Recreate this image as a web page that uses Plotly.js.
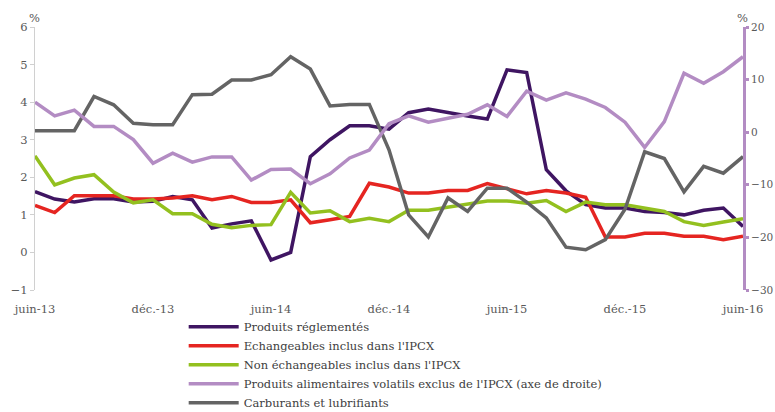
<!DOCTYPE html>
<html>
<head>
<meta charset="utf-8">
<script src="https://cdn.plot.ly/plotly-3.0.1.min.js"></script>
<style>html,body{margin:0;padding:0;background:#fff}#chart{width:775px;height:412px}</style>
</head>
<body>
<div id="chart"></div>
<script>
const months = ["juin-13","juil.-13","août-13","sept.-13","oct.-13","nov.-13","déc.-13",
  "janv.-14","févr.-14","mars-14","avr.-14","mai-14","juin-14","juil.-14","août-14","sept.-14","oct.-14","nov.-14","déc.-14",
  "janv.-15","févr.-15","mars-15","avr.-15","mai-15","juin-15","juil.-15","août-15","sept.-15","oct.-15","nov.-15","déc.-15",
  "janv.-16","févr.-16","mars-16","avr.-16","mai-16","juin-16"];
const tickLabels = ["juin-13","déc.-13","juin-14","déc.-14","juin-15","déc.-15","juin-16"];

const reglementes = [1.62,1.42,1.34,1.43,1.43,1.34,1.36,1.49,1.40,0.65,0.76,0.84,-0.20,0.00,2.55,3.00,3.37,3.37,3.28,3.72,3.82,3.72,3.63,3.55,4.86,4.79,2.20,1.64,1.27,1.18,1.18,1.09,1.06,1.00,1.12,1.18,0.69];
const echangeables = [1.25,1.06,1.51,1.51,1.51,1.42,1.42,1.45,1.51,1.40,1.49,1.33,1.33,1.40,0.79,0.87,0.96,1.84,1.74,1.58,1.58,1.65,1.65,1.83,1.69,1.56,1.65,1.58,1.47,0.41,0.41,0.51,0.51,0.43,0.43,0.34,0.43];
const nonEchangeables = [2.57,1.80,1.98,2.07,1.61,1.32,1.40,1.03,1.03,0.75,0.66,0.72,0.74,1.60,1.05,1.11,0.82,0.91,0.82,1.12,1.12,1.21,1.29,1.37,1.37,1.31,1.38,1.09,1.34,1.27,1.27,1.17,1.09,0.82,0.72,0.81,0.90];
const alimentaires = [5.7,3.1,4.2,1.1,1.1,-1.4,-5.9,-4.0,-5.7,-4.7,-4.7,-9.1,-7.1,-7.0,-9.8,-7.9,-4.9,-3.4,1.6,3.1,1.9,2.6,3.4,5.2,3.0,7.8,6.1,7.5,6.3,4.7,1.9,-2.9,2.0,11.2,9.3,11.5,14.35];
const carburants = [3.24,3.24,3.24,4.15,3.93,3.44,3.40,3.40,4.20,4.21,4.59,4.59,4.73,5.21,4.88,3.90,3.94,3.94,2.73,1.00,0.41,1.45,1.09,1.71,1.71,1.34,0.92,0.14,0.07,0.34,1.15,2.68,2.50,1.61,2.29,2.11,2.55];

const names = ["Produits réglementés","Echangeables inclus dans l'IPCX","Non échangeables inclus dans l'IPCX","Produits alimentaires volatils exclus de l'IPCX (axe de droite)","Carburants et lubrifiants"];
const colors = ["#3f1562","#e52521","#93c01f","#b38cc3","#646464"];

const serif = "DejaVu Serif";
const fs = 11.5;
const lw = 3.5;
const traces = [
  {x: months, y: reglementes, name: names[0], line:{color:colors[0], width:lw}, legendrank:1},
  {x: months, y: echangeables, name: names[1], line:{color:colors[1], width:lw}, legendrank:2},
  {x: months, y: nonEchangeables, name: names[2], line:{color:colors[2], width:lw}, legendrank:3},
  {x: months, y: carburants, name: names[4], line:{color:colors[4], width:lw}, legendrank:5},
  {x: months, y: alimentaires, name: names[3], yaxis:'y2', line:{color:colors[3], width:lw}, legendrank:4}
].map(t => Object.assign({type:'scatter', mode:'lines', hoverinfo:'skip'}, t));

const layout = {
  width: 775, height: 412,
  margin: {l:35, r:32, t:27, b:122, autoexpand:false},
  paper_bgcolor:'#fff', plot_bgcolor:'#fff',
  font: {family: serif, size: fs, color:'#595959'},
  showlegend: true,
  legend: {x: 0.21, xanchor:'left', yref:'container', y: 0.242, yanchor:'top', font:{family:serif, size:fs, color:'#404040'}, bgcolor:'rgba(0,0,0,0)', itemwidth: 50, traceorder:'normal'},
  xaxis: {type:'category', range:[0,36], tickmode:'array', tickvals: tickLabels, ticktext: tickLabels,
    showgrid:false, zeroline:false, showline:false, ticks:'outside', ticklen:8, tickcolor:'rgba(0,0,0,0)', tickfont:{family:serif,size:fs,color:'#595959'}, fixedrange:true},
  xaxis2: {overlaying:'x', anchor:'free', position: 1/7, type:'linear', range:[0,36], tickmode:'array', tickvals:[0,6,12,18,24,30,36],
    showticklabels:false, showgrid:false, zeroline:false, showline:true, linecolor:'#d9d9d9', linewidth:1.5,
    ticks:'outside', ticklen:4, tickcolor:'#d9d9d9', tickwidth:1},
  yaxis: {range:[-1,6], dtick:1, tick0:0, showgrid:false, zeroline:false, showline:true, linecolor:'#d0d0d0', linewidth:1,
    ticks:'outside', ticklen:4, tickcolor:'#d0d0d0', tickfont:{family:serif,size:fs,color:'#595959'}, fixedrange:true},
  yaxis2: {overlaying:'y', side:'right', anchor:'x', range:[-30,20], dtick:10, tick0:0, showgrid:false, zeroline:false,
    showline:true, linecolor:'#b38cc3', linewidth:3, ticks:'outside', ticklen:3, tickwidth:3, tickcolor:'#b38cc3',
    tickfont:{family:serif,size:10.5,color:'#595959'}, fixedrange:true},
  annotations: [
    {text:'%', xref:'paper', yref:'paper', x:0, y:1, xanchor:'center', yanchor:'bottom', xshift:-1, yshift:0, showarrow:false, font:{family:serif,size:fs,color:'#595959'}},
    {text:'%', xref:'paper', yref:'paper', x:1, y:1, xanchor:'center', yanchor:'bottom', xshift:-1, yshift:0, showarrow:false, font:{family:serif,size:fs,color:'#595959'}}
  ]
};

Plotly.newPlot('chart', traces, layout, {staticPlot:true, displayModeBar:false});
</script>
</body>
</html>
